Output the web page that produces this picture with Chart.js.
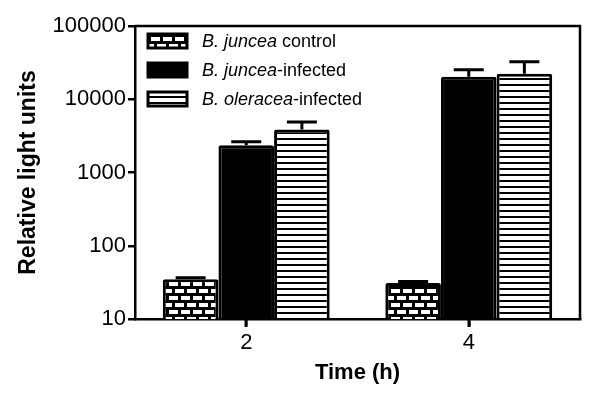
<!DOCTYPE html>
<html>
<head>
<meta charset="utf-8">
<script src="https://cdn.jsdelivr.net/npm/chart.js@4/dist/chart.umd.min.js"></script>
<style>
  body { margin: 0; background: #fff; }
  #wrap { width: 600px; height: 400px; }
</style>
</head>
<body>
<div id="wrap"><canvas id="chart"></canvas></div>
<script>
const times = ['2', '4'];
const seriesNames = ['B. juncea control', 'B. juncea-infected', 'B. oleracea-infected'];
const legendItalic = ['B. juncea', 'B. juncea', 'B. oleracea'];
const legendPlain = [' control', '-infected', '-infected'];
const controlVals = [35, 31];
const junceaVals = [2360, 20300];
const oleraceaVals = [3850, 22300];
const controlErr = [1.5, 1.5];
const junceaErr = [260, 5000];
const oleraceaErr = [1040, 10100];
const yTicks = [10, 100, 1000, 10000, 100000];

const font = "'Liberation Sans', Arial, sans-serif";

// brick fill
function brickPattern() {
    const c = document.createElement('canvas');
    c.width = 12; c.height = 14;
    const g = c.getContext('2d');
    g.fillStyle = '#000';
    g.fillRect(0, 0, 12, 14);
    g.fillStyle = '#fff';
    g.fillRect(1, 2, 9, 4);
    g.fillRect(-5, 9, 9, 4);
    g.fillRect(7, 9, 9, 4);
    return g.createPattern(c, 'repeat');
}

// horizontal stripes
function stripePattern() {
    const c = document.createElement('canvas');
    c.width = 6; c.height = 6;
    const g = c.getContext('2d');
    g.fillStyle = '#fff';
    g.fillRect(0, 0, 6, 6);
    g.fillStyle = '#000';
    g.fillRect(0, 0, 6, 2);
    return g.createPattern(c, 'repeat');
}

const fills = [brickPattern(), '#000', stripePattern()];
const errs = [controlErr, junceaErr, oleraceaErr];

const errorBars = {
    id: 'errorBars',
    afterDatasetsDraw(chart) {
        const ctx = chart.ctx;
        const y = chart.scales.y;
        ctx.save();
        ctx.strokeStyle = '#000';
        ctx.lineWidth = 3;
        chart.data.datasets.forEach((ds, i) => {
            chart.getDatasetMeta(i).data.forEach((bar, j) => {
                const top = y.getPixelForValue(ds.data[j] + errs[i][j]);
                ctx.beginPath();
                ctx.moveTo(bar.x, bar.y);
                ctx.lineTo(bar.x, top);
                ctx.moveTo(bar.x - 15, top);
                ctx.lineTo(bar.x + 15, top);
                ctx.stroke();
            });
        });
        ctx.restore();
    }
};

const frameAndLegend = {
    id: 'frameAndLegend',
    afterDraw(chart) {
        const ctx = chart.ctx;
        const a = chart.chartArea;
        ctx.save();
        ctx.strokeStyle = '#000';
        ctx.lineWidth = 2.5;
        ctx.beginPath();
        ctx.moveTo(a.left, a.top);
        ctx.lineTo(a.right, a.top);
        ctx.lineTo(a.right, a.bottom);
        ctx.stroke();

        // x tick marks under the middle bar of each group
        ctx.lineWidth = 3;
        chart.getDatasetMeta(1).data.forEach(bar => {
            const px = Math.round(bar.x);
            ctx.beginPath();
            ctx.moveTo(px, a.bottom);
            ctx.lineTo(px, a.bottom + 8);
            ctx.stroke();
        });

        chart.data.datasets.forEach((ds, i) => {
            const cy = a.top + 15 + i * 29;
            const bx = a.left + 13;
            ctx.fillStyle = ds.backgroundColor;
            ctx.fillRect(bx, cy - 7, 39, 14);
            ctx.lineWidth = 3;
            ctx.strokeRect(bx, cy - 7, 39, 14);
            ctx.fillStyle = '#000';
            ctx.textBaseline = 'middle';
            ctx.font = 'italic 18px ' + font;
            ctx.fillText(legendItalic[i], a.left + 67, cy + 1);
            const w = ctx.measureText(legendItalic[i]).width;
            ctx.font = '18px ' + font;
            ctx.fillText(legendPlain[i], a.left + 67 + w, cy + 1);
        });
        ctx.restore();
    }
};

const ctx = document.getElementById('chart').getContext('2d');
const myChart = new Chart(ctx, {
    type: 'bar',
    data: {
        labels: times,
        datasets: [
            { label: seriesNames[0], data: controlVals },
            { label: seriesNames[1], data: junceaVals },
            { label: seriesNames[2], data: oleraceaVals }
        ].map((d, i) => Object.assign(d, {
            backgroundColor: fills[i],
            borderColor: '#000',
            borderWidth: 3,
            borderRadius: 2,
            borderSkipped: 'bottom',
            categoryPercentage: 0.75,
            barPercentage: 1
        }))
    },
    options: {
        responsive: true,
        maintainAspectRatio: false,
        animation: false,
        layout: { padding: { top: 26, right: 20, bottom: 16, left: 11 } },
        plugins: {
            legend: { display: false },
            tooltip: { enabled: false }
        },
        scales: {
            x: {
                grid: { drawOnChartArea: false, color: '#000', lineWidth: 2.5, tickLength: 7, offset: false },
                border: { color: '#000', width: 2.5 },
                ticks: { color: '#000', font: { family: font, size: 22, lineHeight: 1 }, padding: 6 },
                title: { display: true, text: 'Time (h)', color: '#000', font: { family: font, size: 22, weight: 'bold', lineHeight: 1 }, padding: { top: 2, bottom: 0 } }
            },
            y: {
                type: 'logarithmic',
                min: 10,
                max: 100000,
                afterBuildTicks: axis => { axis.ticks = yTicks.map(v => ({ value: v })); },
                grid: { drawOnChartArea: false, color: '#000', lineWidth: 2.5, tickLength: 7 },
                border: { color: '#000', width: 2.5 },
                ticks: { color: '#000', font: { family: font, size: 22 }, padding: 2, callback: v => String(v) },
                title: { display: true, text: 'Relative light units', color: '#000', font: { family: font, size: 23, weight: 'bold' }, padding: { bottom: 8 } }
            }
        }
    },
    plugins: [errorBars, frameAndLegend]
});
</script>
</body>
</html>
